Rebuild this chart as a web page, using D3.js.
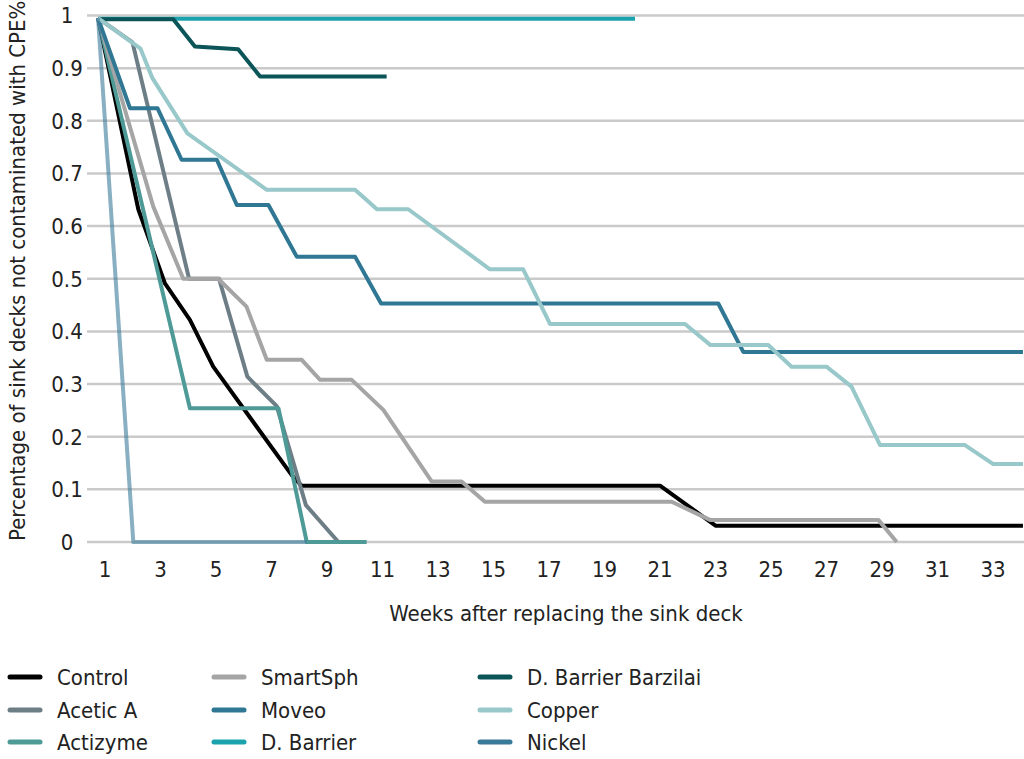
<!DOCTYPE html>
<html><head><meta charset="utf-8">
<script src="https://cdn.jsdelivr.net/npm/d3@7"></script>
<style>
body{margin:0;background:#fff;}
text{font-family:"Liberation Sans Narrow","DejaVu Sans Condensed",sans-serif;fill:#222;}
</style></head>
<body><svg id="c" width="1024" height="759"></svg>
<script>
const seriesNames = ["Control","Acetic A","Actizyme","SmartSph","Moveo","D. Barrier","D. Barrier Barzilai","Copper","Nickel"];
const seriesColors = ["#000000","#6e7e87","#4e9a97","#a5a5a5","#2f7793","#1aa3ad","#0b5457","#98c8c9","#3a7a99"];
const xTicks = [1,3,5,7,9,11,13,15,17,19,21,23,25,27,29,31,33];
const yTicks = [0,0.1,0.2,0.3,0.4,0.5,0.6,0.7,0.8,0.9,1];
const yTickLabels = ["0","0.1","0.2","0.3","0.4","0.5","0.6","0.7","0.8","0.9","1"];
// [week, fraction]
const control = [[0.75,0.995],[2.2,0.632],[3.16,0.491],[4.06,0.422],[4.9,0.333],[7.73,0.127],[8.08,0.107],[21,0.107],[23,0.031],[34.08,0.031]];
const aceticA = [[0.75,0.995],[1.99,0.949],[4.03,0.5],[5.11,0.5],[6.13,0.314],[7.19,0.258],[8.24,0.07],[9.41,0]];
const actizyme = [[0.75,0.995],[4.06,0.254],[7.25,0.254],[8.27,0],[10.43,0]];
const smartSph = [[0.75,0.995],[2.74,0.637],[3.82,0.5],[5.08,0.5],[6.1,0.447],[6.83,0.346],[8.09,0.346],[8.75,0.308],[9.89,0.308],[11.03,0.251],[12.77,0.115],[13.85,0.115],[14.69,0.0765],[21.42,0.0765],[22.8,0.042],[28.87,0.042],[29.53,0]];
const moveo = [[0.75,0.995],[1.9,0.824],[2.89,0.824],[3.76,0.726],[5.03,0.726],[5.75,0.64],[6.89,0.64],[7.91,0.542],[10.01,0.542],[10.95,0.453],[23.1,0.453],[24.0,0.361],[34.08,0.361]];
const dBarrier = [[0.75,0.994],[20.1,0.994]];
const dBarrierBarzilai = [[0.75,0.993],[3.46,0.993],[4.24,0.941],[5.8,0.936],[6.59,0.884],[11.15,0.884]];
const copper = [[0.75,0.995],[2.28,0.937],[2.71,0.881],[3.97,0.776],[6.83,0.669],[10.01,0.669],[10.8,0.632],[11.93,0.632],[14.87,0.518],[16.07,0.518],[17.04,0.414],[21.9,0.414],[22.82,0.374],[24.9,0.374],[25.74,0.333],[27.0,0.333],[27.9,0.295],[28.93,0.184],[31.99,0.184],[33.01,0.148],[34.08,0.148]];
const nickel = [[0.75,0.995],[2.02,0],[8.27,0]];
const seriesData = [control,aceticA,actizyme,smartSph,moveo,dBarrier,dBarrierBarzilai,copper,nickel];
const seriesOpacity = [1,1,1,1,1,1,1,1,0.6];

const svg = d3.select("#c");
const x = d3.scaleLinear().domain([1,33]).range([105,993]);
const y = d3.scaleLinear().domain([0,1]).range([542,15.5]);

// gridlines
svg.append("g").selectAll("line").data(yTicks).join("line")
  .attr("x1",87).attr("x2",1024)
  .attr("y1",d=>y(d)).attr("y2",d=>y(d))
  .attr("stroke","#cacaca").attr("stroke-width",2.5);

// y tick labels
svg.append("g").selectAll("text").data(yTicks).join("text")
  .attr("x",67).attr("y",d=>y(d)).attr("dy","0.36em")
  .attr("text-anchor","middle").style("font-size","22px")
  .text((d,i)=>yTickLabels[i]);

// x tick labels
svg.append("g").selectAll("text").data(xTicks).join("text")
  .attr("x",d=>x(d)).attr("y",577)
  .attr("text-anchor","middle").style("font-size","22px")
  .text(d=>d);

// axis titles
svg.append("text").attr("x",566).attr("y",621).attr("text-anchor","middle")
  .style("font-size","22px").text("Weeks after replacing the sink deck");
svg.append("text").attr("transform","translate(25,541) rotate(-90)")
  .attr("text-anchor","start").style("font-size","22px")
  .text("Percentage of sink decks not contaminated with CPE%");

// lines
const line = d3.line().x(d=>x(d[0])).y(d=>y(d[1]));
svg.append("g").selectAll("path").data(seriesData).join("path")
  .attr("d",line).attr("fill","none")
  .attr("stroke",(d,i)=>seriesColors[i])
  .attr("stroke-opacity",(d,i)=>seriesOpacity[i])
  .attr("stroke-width",4).attr("stroke-linejoin","round");

// legend
const colX = [8,212,478];
const rowY = [677,710,742];
const lg = svg.append("g");
seriesNames.forEach((n,i)=>{
  const c = Math.floor(i/3), r = i%3;
  lg.append("line").attr("x1",colX[c]+2).attr("x2",colX[c]+32)
    .attr("y1",rowY[r]).attr("y2",rowY[r])
    .attr("stroke",seriesColors[i]).attr("stroke-width",5).attr("stroke-linecap","round");
  lg.append("text").attr("x",colX[c]+49).attr("y",rowY[r]).attr("dy","0.36em")
    .style("font-size","22px").text(n);
});
</script></body></html>
